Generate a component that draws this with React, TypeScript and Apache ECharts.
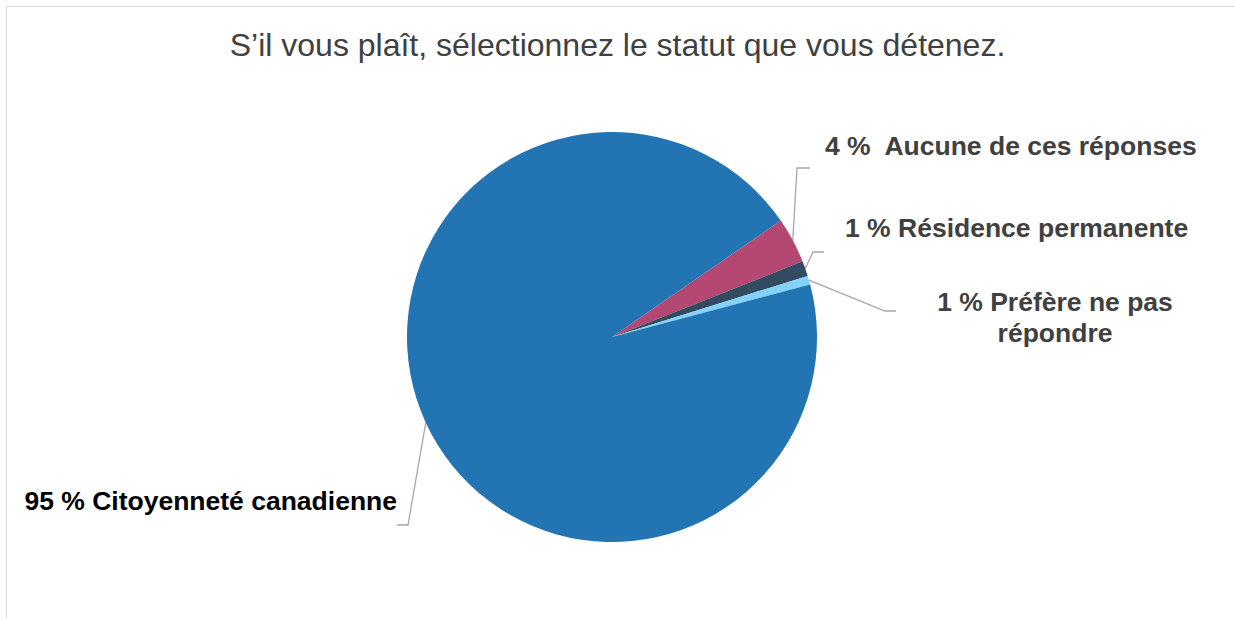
import React, { useEffect, useRef } from "react";
import * as echarts from "echarts";

// ---- data ----
const categories = [
  "Aucune de ces réponses",
  "Résidence permanente",
  "Préfère ne pas\nrépondre",
  "Citoyenneté canadienne",
];
const shares = [3.6, 1.2, 0.7, 94.6];
const sliceColors = ["#B54773", "#324B61", "#82D2FA", "#2274B2"];
const labelSeparators = ["  ", " ", " ", " "];
const titleText = "S’il vous plaît, sélectionnez le statut que vous détenez.";

// ---- layout (not data) ----
const FONT = "Arial, 'Liberation Sans', sans-serif";
const labelPlacement = [
  { x: 825, y: 145.5, align: "left", color: "#404040", elbow: [797, 168], end: [810, 168] },
  { x: 845, y: 228, align: "left", color: "#404040", elbow: [813, 252], end: [824, 252] },
  { x: 1055, y: 317, align: "center", color: "#404040", elbow: [885, 311], end: [896, 311] },
  { x: 397, y: 501, align: "right", color: "#000000", elbow: [408, 525], end: [397, 525] },
];

export default function App() {
  const ref = useRef<HTMLDivElement>(null);
  useEffect(() => {
    if (!ref.current) return;
    const chart = echarts.init(ref.current, undefined, { renderer: "svg" });
    const data = categories.map((name, i) => ({
      name,
      value: shares[i],
      itemStyle: { color: sliceColors[i] },
      label: { color: labelPlacement[i].color },
    }));
    chart.setOption({
      animation: false,
      backgroundColor: "#FFFFFF",
      title: {
        text: titleText,
        left: "center",
        top: 29,
        padding: 0,
        textStyle: { fontFamily: FONT, fontSize: 32, fontWeight: "normal", color: "#404040" },
      },
      graphic: [
        {
          type: "rect",
          silent: true,
          z: -10,
          shape: { x: 6.5, y: 6.5, width: 1400, height: 800 },
          style: { fill: "none", stroke: "#D9D9D9", lineWidth: 1 },
        },
      ],
      series: [
        {
          type: "pie",
          center: [612, 337],
          radius: 205,
          startAngle: 34.6,
          clockwise: true,
          avoidLabelOverlap: false,
          emphasis: { disabled: true },
          data,
          label: {
            show: true,
            position: "outside",
            fontFamily: FONT,
            fontSize: 26.5,
            fontWeight: "bold",
            lineHeight: 31,
            formatter: (p: any) =>
              `${Math.round(p.value)} %${labelSeparators[p.dataIndex]}${p.name}`,
          },
          labelLine: {
            show: true,
            length: 10,
            length2: 10,
            smooth: false,
            lineStyle: { color: "#A6A6A6", width: 1.3 },
          },
          labelLayout: (params: any) => {
            const pl = labelPlacement[params.dataIndex];
            const start =
              params.labelLinePoints && params.labelLinePoints[0]
                ? params.labelLinePoints[0]
                : pl.elbow;
            return {
              x: pl.x,
              y: pl.y,
              align: pl.align,
              verticalAlign: "middle",
              hideOverlap: false,
              labelLinePoints: [start, pl.elbow, pl.end],
            };
          },
        },
      ],
    });
    return () => chart.dispose();
  }, []);
  return (
    <div
      ref={ref}
      style={{ position: "absolute", left: 0, top: 0, width: 1235, height: 619 }}
    />
  );
}
